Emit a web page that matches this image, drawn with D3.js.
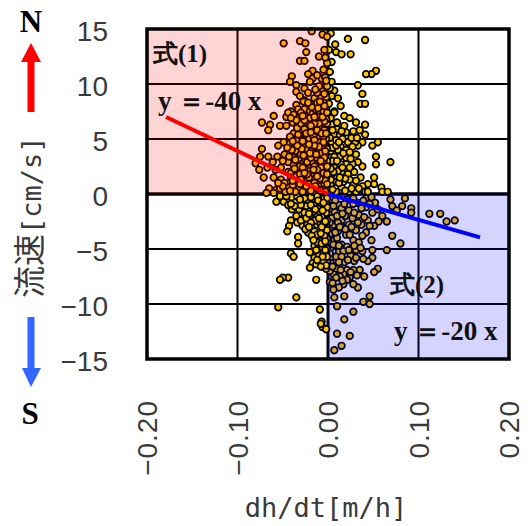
<!DOCTYPE html>
<html>
<head>
<meta charset="utf-8">
<script src="https://cdn.jsdelivr.net/npm/d3@7"></script>
<style>
  html, body { margin: 0; padding: 0; background: #fff; }
  svg { display: block; }
  .tick-label { font-family: "Liberation Sans", sans-serif; fill: #3a3a3a; }
  .axis-title { font-family: "DejaVu Sans Mono", monospace; fill: #3a3a3a; }
  .note { font-family: "Liberation Serif", serif; font-weight: bold; fill: #111; }
</style>
</head>
<body>
<div id="chart"></div>
<script>
const xTicks = [-0.2, -0.1, 0, 0.1, 0.2];
const yTicks = [-15, -10, -5, 0, 5, 10, 15];

// [dh/dt, velocity], one list per quadrant
const northWest = [
  [-.049,13.7],[-.031,13.9],[-.025,13.7],[-.024,12.9],[-.010,12.5],[-.031,12.1],[-.026,12.1],[-.004,13.1],[-.006,14.5],[-.018,14.8],
  [-.001,14.3],[-.017,11.2],[-.022,10.9],[-.040,10.7],[-.042,10.2],[-.017,10.5],[-.020,10.2],[-.007,10.5],[-.035,9.9],[-.035,9.3],
  [-.026,9.6],[-.022,9.2],[-.007,9.4],[-.001,9.8],[-.053,8.3],[-.031,8.9],[-.026,8.5],[-.015,8.7],[-.008,8.7],[-.002,8.8],
  [-.035,8.1],[-.024,8.1],[-.016,8.1],[-.008,8.0],[-.041,7.5],[-.033,7.7],[-.026,7.7],[-.020,7.5],[-.009,7.5],[-.002,7.7],
  [-.060,7.1],[-.073,6.5],[-.064,6.3],[-.053,6.2],[-.066,5.8],[-.046,7.0],[-.044,7.4],[-.038,7.2],[-.032,6.9],[-.024,7.0],
  [-.017,7.3],[-.010,7.0],[-.002,7.2],[-.039,6.5],[-.046,6.2],[-.017,6.0],[-.006,6.3],[-.038,5.5],[-.028,5.3],[-.021,5.0],
  [-.011,5.3],[-.002,5.0],[-.049,4.7],[-.055,4.4],[-.042,4.6],[-.032,4.4],[-.024,4.1],[-.013,4.2],[-.004,4.4],[-.073,4.1],
  [-.066,3.4],[-.075,3.4],[-.080,2.8],[-.061,2.9],[-.076,2.2],[-.067,2.4],[-.071,1.5],[-.060,1.5],[-.052,2.4],[-.044,2.9],
  [-.038,3.3],[-.028,2.8],[-.015,3.3],[-.006,3.3],[-.038,2.6],[-.021,2.4],[-.044,2.0],[-.010,2.2],[-.002,2.2],[-.028,1.5],
  [-.041,1.9],[-.017,1.5],[-.006,1.5],[-.052,1.3],[-.041,1.5],[-.065,.5],[-.057,.4],[-.053,.5],[-.044,.6],[-.039,.8],
  [-.032,.5],[-.022,.5],[-.013,.5],[-.008,.8],[-.002,1.5],[-.048,3.6],[-.050,3.0],[-.056,3.4],[-.058,2.2],[-.048,1.0],
  [-.034,6.0],[-.030,6.4],[-.026,5.9],[-.022,6.5],[-.012,6.6],[-.009,6.0],[-.004,5.8],[-.014,5.6],[-.030,5.0],[-.035,4.9],
  [-.026,4.6],[-.018,4.5],[-.009,4.7],[-.005,5.2],[-.001,6.4],[-.001,4.1],[-.036,3.9],[-.030,3.6],[-.022,3.5],[-.018,3.9],
  [-.010,3.8],[-.003,3.5],[-.002,2.8],[-.012,2.8],[-.018,2.9],[-.024,2.2],[-.033,2.0],[-.034,1.2],[-.024,1.2],[-.012,1.2],
  [-.008,1.9],[-.004,.9],[-.002,.4],[-.006,.2],[-.017,.2],[-.028,.2],[-.036,.2],[-.047,.2],[-.060,.1],[-.068,.1],
  [-.012,8.3],[-.005,8.3],[-.012,9.2],[-.003,10.6],[-.001,11.9],[-.003,12.4],[-.030,7.4],[-.014,7.7],[-.005,7.5],[-.027,8.4],
  [-.042,5.2],[-.020,6.9],[-.007,6.7],[-.002,6.8],[-.016,5.2],[-.007,4.2],[-.001,3.0],[-.015,4.9],[-.025,3.1],[-.031,2.5],
  [-.009,2.7],[-.004,2.5],[-.014,2.0],[-.019,1.8],[-.027,.9],[-.003,1.2],[-.001,.9],[-.010,.4],[-.021,.9],[-.035,1.6],
  [-.040,4.0],[-.036,3.1],[-.043,3.4],[-.029,4.1],[-.027,3.5],[-.023,2.9],[-.019,3.3],[-.016,3.7],[-.012,3.3],[-.007,3.7],
  [-.005,3.0],[-.008,2.4],[-.015,2.5],[-.012,2.2],[-.020,2.1],[-.028,2.4],[-.031,1.8],[-.037,2.3],[-.039,1.2],[-.030,1.3],
  [-.021,1.5],[-.015,1.0],[-.009,1.4],[-.005,1.9],[-.001,1.8],[-.001,2.5],[-.003,3.9],[-.005,4.7],[-.010,4.3],[-.015,4.4],
  [-.021,4.5],[-.028,4.8],[-.034,4.4],[-.039,4.8],[-.045,4.2],[-.033,5.4],[-.024,5.5],[-.019,5.6],[-.012,5.8],[-.007,5.5],
  [-.002,5.5],[-.004,6.6],[-.010,6.4],[-.015,6.4],[-.019,6.2],[-.026,6.7],[-.035,6.7],[-.041,6.9],[-.028,7.1],[-.015,7.0],
  [-.006,7.0],[-.011,7.8],[-.018,7.9],[-.022,8.3],[-.004,8.0],[-.001,7.4],[-.009,8.4],[-.004,9.1],[-.010,9.8],[-.014,9.5],
  [-.002,10.3],[-.012,10.8],[-.005,11.3],[-.014,.7],[-.019,.3],[-.024,.7],[-.031,.9],[-.042,.3],[-.050,.7],[-.055,1.0],
  [-.008,.3],[-.003,.2],[-.012,1.6],[-.023,1.8],[-.016,2.2],[-.026,1.9],[-.004,3.3],[-.008,3.0],[-.013,3.6],[-.020,3.7]
];

const northEast = [
  [.022,14.1],[.041,14.0],[.008,13.6],[.009,12.9],[.015,12.7],[.025,12.7],[.004,12.0],[.053,11.2],[.048,10.9],[.042,10.9],
  [.004,10.2],[.033,9.9],[.007,9.4],[.038,9.1],[.004,8.9],[.011,8.7],[.014,8.0],[.036,8.2],[.041,8.2],[.007,7.5],
  [.007,7.4],[.018,7.1],[.024,6.9],[.031,6.5],[.041,6.3],[.004,6.3],[.010,5.9],[.018,6.2],[.020,5.6],[.028,5.7],
  [.035,5.8],[.041,5.4],[.007,5.4],[.013,5.3],[.055,4.7],[.049,4.4],[.038,4.7],[.033,4.4],[.022,4.7],[.030,4.7],
  [.004,4.7],[.009,4.9],[.014,4.3],[.020,4.0],[.027,4.3],[.031,3.6],[.053,3.4],[.053,2.7],[.069,2.9],[.038,2.5],
  [.033,2.9],[.027,2.7],[.020,3.3],[.013,3.4],[.007,3.4],[.020,2.7],[.014,2.7],[.007,2.4],[.015,2.0],[.029,2.0],
  [.022,1.8],[.009,1.6],[.004,1.8],[.036,1.5],[.051,1.5],[.024,1.3],[.007,1.1],[.044,.9],[.051,.9],[.038,.7],
  [.059,.6],[.015,.6],[.031,.2],[.041,.2],[.060,.2],[.066,.2],[.023,.2],[.009,.2],[.003,.9],[.002,2.9],
  [.003,3.9],[.002,5.1],[.003,6.9],[.001,8.2],[.002,9.6],[.002,11.1],[.001,13.1],[.003,14.6],[.011,4.0],[.011,2.1],
  [.017,1.1],[.028,.8],[.005,.4],[.016,5.0],[.006,2.0],[.012,1.0],[.025,3.2],[.010,6.5],[.003,1.3],[.044,.2],
  [.005,3.0],[.010,3.0],[.016,2.4],[.024,2.4],[.005,4.2],[.017,3.7],[.024,3.8],[.009,4.4],[.005,5.8],[.012,4.7],
  [.026,5.1],[.015,5.7],[.032,5.1],[.019,1.4],[.031,1.2],[.013,1.5],[.003,2.3],[.034,.5],[.019,.3],[.026,.5]
];

const southWest = [
  [-.057,-.7],[-.049,-.7],[-.040,-.3],[-.035,-.7],[-.028,-.2],[-.053,-.2],[-.023,-.7],[-.015,-.7],[-.040,-1.4],[-.032,-1.4],
  [-.020,-1.4],[-.011,-1.3],[-.004,-.4],[-.004,-1.2],[-.035,-2.0],[-.041,-2.4],[-.043,-2.9],[-.045,-3.4],[-.034,-2.6],[-.028,-2.9],
  [-.020,-2.0],[-.012,-2.0],[-.027,-2.2],[-.004,-2.2],[-.013,-2.9],[-.006,-3.4],[-.022,-3.5],[-.033,-3.9],[-.033,-4.5],[-.013,-3.9],
  [-.006,-4.1],[-.015,-4.7],[-.020,-5.3],[-.041,-5.4],[-.038,-5.7],[-.010,-5.0],[-.015,-5.8],[-.009,-6.2],[-.017,-6.3],[-.004,-5.8],
  [-.020,-6.7],[-.013,-6.4],[-.006,-6.6],[-.002,-6.8],[-.013,-7.8],[-.044,-7.6],[-.050,-7.6],[-.053,-7.8],[-.035,-9.4],[-.055,-10.3],
  [-.009,-10.5],[-.007,-11.6],[-.006,-12.1],[-.008,-11.8],[-.002,-12.3],[-.002,-.7],[-.002,-1.7],[-.008,-1.7],[-.016,-1.0],[-.024,-1.1],
  [-.009,-2.6],[-.002,-2.9],[-.017,-2.5],[-.023,-2.8],[-.018,-3.1],[-.010,-3.3],[-.002,-3.8],[-.009,-4.3],[-.003,-4.6],[-.012,-4.4],
  [-.006,-4.9],[-.002,-5.3],[-.007,-5.4],[-.012,-5.2],[-.001,-6.2],[-.005,-6.1],[-.028,-.6],[-.030,-1.0],[-.044,-1.0],[-.008,-.8],
  [-.012,-.2],[-.019,-.3],[-.034,-.2],[-.046,-.2],[-.015,-3.4],[-.004,-3.0],[-.001,-3.3],[-.001,-4.1],[-.001,-5.0],[-.001,-5.7],
  [-.037,-1.1],[-.026,-1.7],[-.016,-1.6],[-.007,-2.1],[-.014,-2.4],[-.030,-2.4],[-.024,-2.2],[-.019,-2.6],[-.025,-3.2],[-.005,-2.7],
  [-.001,-1.2],[-.001,-2.4],[-.012,-3.7],[-.007,-3.0],[-.018,-3.8],[-.016,-4.2],[-.007,-4.5],[-.004,-3.8],[-.010,-5.6],[-.003,-5.1],
  [-.013,-5.1],[-.006,-5.7],[-.011,-.6],[-.019,-1.0],[-.006,-1.5],[-.010,-2.2],[-.003,-2.5],[-.001,-.4],[-.021,-3.0],[-.008,-3.6],
  [-.002,-6.5],[-.008,-6.6],[-.012,-6.0],[-.003,-4.3],[-.026,-.4],[-.041,-.9],[-.014,-1.4],[-.031,-.5],[-.021,-1.8],[-.005,-.8]
];

const southEast = [
  [.085,-.4],[.069,-.5],[.071,-1.1],[.076,-1.5],[.082,-1.1],[.092,-1.3],[.092,-1.7],[.112,-1.8],[.124,-1.8],[.131,-2.5],
  [.140,-2.4],[.060,-2.0],[.049,-1.7],[.052,-.8],[.042,-.4],[.065,-2.5],[.056,-2.5],[.051,-2.9],[.071,-3.8],[.080,-4.5],
  [.048,-4.2],[.065,-5.1],[.049,-5.1],[.038,-5.2],[.049,-5.8],[.044,-6.1],[.055,-6.8],[.051,-7.1],[.042,-3.5],[.031,-3.3],
  [.023,-2.8],[.015,-2.4],[.007,-1.6],[.012,-1.0],[.023,-1.5],[.034,-1.9],[.042,-1.2],[.032,-.8],[.021,-.5],[.011,-3.4],
  [.020,-3.7],[.004,-3.0],[.007,-4.2],[.015,-4.6],[.031,-5.1],[.012,-5.3],[.004,-5.7],[.025,-5.6],[.018,-6.2],[.009,-6.8],
  [.029,-6.1],[.035,-6.9],[.021,-6.9],[.003,-6.3],[.006,-7.3],[.017,-7.3],[.024,-7.6],[.028,-6.9],[.040,-7.5],[.033,-8.5],
  [.028,-8.2],[.017,-8.2],[.012,-8.5],[.006,-8.7],[.021,-7.8],[.007,-9.4],[.018,-9.3],[.046,-9.3],[.039,-9.8],[.046,-10.0],
  [.010,-10.2],[.028,-10.7],[.018,-11.4],[.010,-12.7],[.024,-12.9],[.015,-13.8],[.007,-14.2],[.003,-.5],[.002,-1.3],[.004,-2.2],
  [.010,-2.0],[.003,-3.6],[.003,-4.9],[.002,-5.4],[.010,-4.0],[.016,-3.0],[.027,-2.2],[.037,-2.8],[.028,-4.2],[.034,-4.4],
  [.021,-4.8],[.039,-.6],[.048,-.3],[.028,-.4],[.015,-1.3],[.019,-2.0],[.008,-.6],[.002,-7.0],[.002,-8.0],[.013,-7.5],
  [.006,-2.8],[.011,-2.6],[.019,-3.2],[.026,-3.0],[.033,-2.6],[.038,-3.8],[.044,-2.4],[.024,-3.7],[.029,-4.7],[.036,-4.9],
  [.008,-3.5],[.013,-3.0],[.006,-4.6],[.012,-4.7],[.017,-5.2],[.023,-5.1],[.009,-5.7],[.015,-5.7],[.005,-6.6],[.012,-6.2],
  [.022,-6.0],[.031,-5.8],[.039,-5.9],[.014,-6.9],[.025,-7.1],[.032,-7.4],[.009,-7.6],[.005,-8.1],[.016,-7.9],[.028,-.9],
  [.037,-1.3],[.046,-.9],[.055,-1.4],[.018,-.9],[.006,-1.1],[.016,-1.8],[.029,-1.7],[.040,-2.1],[.046,-2.9],[.002,-2.6]
];

// line ends, in data units
const lineNorth = [[0, 0], [-0.179, 7.0]];
const lineSouth = [[0, 0], [0.168, -3.95]];

const width = 528, height = 526;

const x = d3.scaleLinear().domain([-0.2, 0.2]).range([147, 509]);
const y = d3.scaleLinear().domain([-15, 15]).range([359, 29]);

const svg = d3.select('#chart').append('svg')
    .attr('width', width)
    .attr('height', height);

// Grid
svg.selectAll('.grid-x')
    .data(xTicks.slice(1, -1))
    .enter()
    .append('line')
    .attr('x1', d => x(d)).attr('x2', d => x(d))
    .attr('y1', y(15)).attr('y2', y(-15))
    .attr('stroke', '#000')
    .attr('stroke-width', d => d === 0 ? 3 : 2);

svg.selectAll('.grid-y')
    .data(yTicks.slice(1, -1))
    .enter()
    .append('line')
    .attr('x1', x(-0.2)).attr('x2', x(0.2))
    .attr('y1', d => y(d)).attr('y2', d => y(d))
    .attr('stroke', '#000')
    .attr('stroke-width', d => d === 0 ? 3.5 : 2);

// Scatter
const allPoints = d3.merge([southEast, northEast, southWest, northWest]);
svg.selectAll('.point')
    .data(allPoints)
    .enter()
    .append('circle')
    .attr('cx', d => x(d[0]))
    .attr('cy', d => y(d[1]))
    .attr('r', 3.3)
    .attr('fill', '#ffc800')
    .attr('stroke', '#000')
    .attr('stroke-width', 1.7);

// Tinted quadrants sit on top of the points
svg.append('rect')
    .attr('x', x(-0.2)).attr('y', y(15))
    .attr('width', x(0) - x(-0.2)).attr('height', y(0) - y(15))
    .attr('fill', 'rgba(255,0,0,0.17)');

svg.append('rect')
    .attr('x', x(0)).attr('y', y(0))
    .attr('width', x(0.2) - x(0)).attr('height', y(-15) - y(0))
    .attr('fill', 'rgba(0,0,255,0.17)');

// Frame
svg.append('rect')
    .attr('x', x(-0.2)).attr('y', y(15))
    .attr('width', x(0.2) - x(-0.2)).attr('height', y(-15) - y(15))
    .attr('fill', 'none')
    .attr('stroke', '#000')
    .attr('stroke-width', 3.5);

// Fit lines
const line = d3.line().x(d => x(d[0])).y(d => y(d[1]));
svg.append('path').attr('d', line(lineSouth)).attr('stroke', '#0000ff').attr('stroke-width', 4).attr('fill', 'none');
svg.append('path').attr('d', line(lineNorth)).attr('stroke', '#ff0000').attr('stroke-width', 4).attr('fill', 'none');

// Tick labels
svg.selectAll('.y-label')
    .data(yTicks)
    .enter()
    .append('text')
    .attr('class', 'tick-label')
    .attr('x', 108)
    .attr('y', d => y(d) + 12)
    .attr('text-anchor', 'end')
    .style('font-size', '28px')
    .text(d => d < 0 ? '\u2212' + Math.abs(d) : d);

svg.selectAll('.x-label')
    .data(xTicks)
    .enter()
    .append('text')
    .attr('class', 'tick-label')
    .attr('transform', d => `translate(${x(d) + 10}, 400) rotate(-90)`)
    .attr('text-anchor', 'end')
    .style('font-size', '28px')
    .style('letter-spacing', '1px')
    .text(d => (d < 0 ? '\u2212' : '') + Math.abs(d).toFixed(2));

// Axis titles
svg.append('text')
    .attr('class', 'axis-title')
    .attr('x', 326)
    .attr('y', 517)
    .attr('text-anchor', 'middle')
    .style('font-size', '27px')
    .text('dh/dt[m/h]');

const yTitle = svg.append('text')
    .attr('class', 'axis-title')
    .attr('transform', 'translate(41, 298) rotate(-90)')
    .style('font-size', '27px');
yTitle.append('tspan')
    .style('font-family', '"Noto Sans CJK JP"')
    .style('font-size', '32px')
    .text('流速');
yTitle.append('tspan').text('[cm/s]');

// Notes on the plot
const notes = [
    { text: '式(1)', px: 153, py: 62, size: 25 },
    { text: 'y ＝-40 x', px: 158, py: 110, size: 27 },
    { text: '式(2)', px: 390, py: 293, size: 25 },
    { text: 'y ＝-20 x', px: 394, py: 340, size: 27 }
];
svg.selectAll('.note')
    .data(notes)
    .enter()
    .append('text')
    .attr('class', 'note')
    .attr('x', d => d.px)
    .attr('y', d => d.py)
    .style('font-size', d => d.size + 'px')
    .text(d => d.text);

// N / S arrows
svg.append('polygon')
    .attr('points', '27.5,112 34.5,112 34.5,62 41,62 31,43 21,62 27.5,62')
    .attr('fill', '#ff0000');
svg.append('polygon')
    .attr('points', '27.5,317 34.5,317 34.5,368 41,368 31,387 22,368 27.5,368')
    .attr('fill', '#3366ff');

svg.append('text').attr('class', 'note').attr('x', 31).attr('y', 32)
    .attr('text-anchor', 'middle').style('font-size', '31px').style('fill', '#000').text('N');
svg.append('text').attr('class', 'note').attr('x', 30).attr('y', 424)
    .attr('text-anchor', 'middle').style('font-size', '31px').style('fill', '#000').text('S');
</script>
</body>
</html>
